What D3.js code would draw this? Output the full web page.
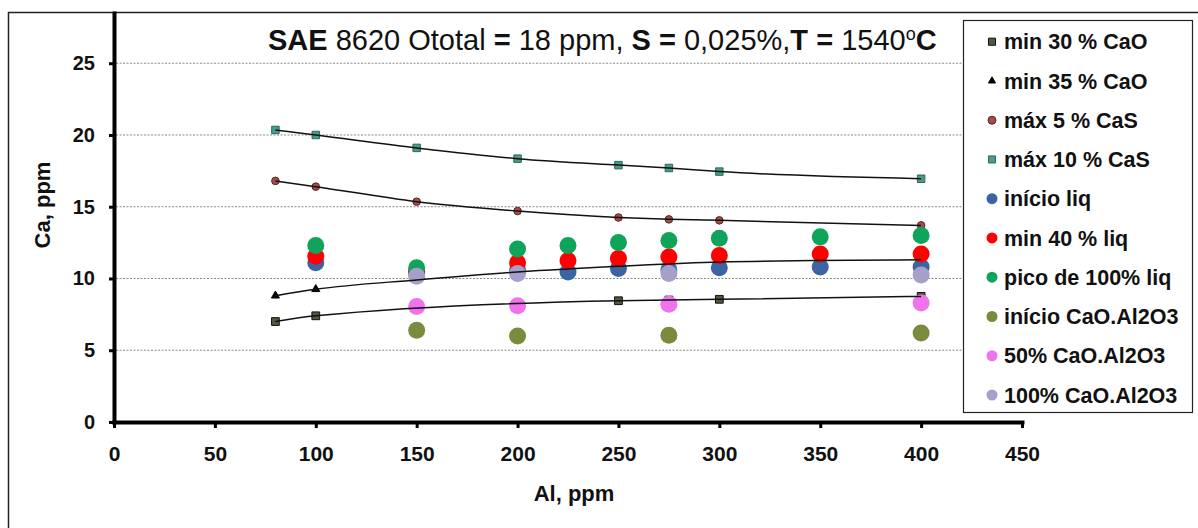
<!DOCTYPE html>
<html>
<head>
<meta charset="utf-8">
<script src="https://cdn.jsdelivr.net/npm/d3@7"></script>
<style>
  body { margin: 0; background: #fff; }
  text { font-family: "Liberation Sans", Arial, sans-serif; }
</style>
</head>
<body>
<svg id="chart"></svg>
<script>
// axis ticks
const xTicks = [0, 50, 100, 150, 200, 250, 300, 350, 400, 450];
const yTicks = [0, 5, 10, 15, 20, 25];

// series (Al ppm -> Ca ppm)
const xMin30 = [80, 100, 250, 275, 300, 400];
const min30CaO = [7.0, 7.4, 8.45, 8.5, 8.55, 8.75];
const xMin35 = [80, 100, 150, 200, 250, 300, 400];
const min35CaO = [8.8, 9.25, 9.9, 10.45, 10.85, 11.15, 11.3];
const xCaS = [80, 100, 150, 200, 250, 275, 300, 400];
const max5CaS = [16.8, 16.4, 15.35, 14.7, 14.25, 14.12, 14.05, 13.7];
const max10CaS = [20.35, 20.0, 19.1, 18.35, 17.9, 17.7, 17.45, 16.95];
const xLiq = [100, 150, 200, 225, 250, 275, 300, 350, 400];
const inicioLiq = [11.1, 10.4, 10.6, 10.45, 10.7, 10.6, 10.75, 10.8, 10.8];
const min40Liq = [11.55, 10.5, 11.1, 11.25, 11.4, 11.5, 11.6, 11.7, 11.7];
const pico100Liq = [12.3, 10.75, 12.05, 12.3, 12.5, 12.65, 12.8, 12.9, 13.0];
const xCA = [150, 200, 275, 400];
const inicioCA = [6.4, 6.0, 6.05, 6.2];
const ca50 = [8.05, 8.1, 8.2, 8.3];
const ca100 = [10.15, 10.35, 10.35, 10.25];

const seriesNames = ["min 30 % CaO", "min 35 % CaO", "máx 5 % CaS", "máx 10 % CaS",
  "início liq", "min 40 % liq", "pico de 100% liq", "início CaO.Al2O3",
  "50% CaO.Al2O3", "100% CaO.Al2O3"];

const series = [
  { xs: xMin30, ys: min30CaO, shape: "square", fill: "#4e5a3e", stroke: "#111", size: 60, trend: true },
  { xs: xMin35, ys: min35CaO, shape: "triangle", fill: "#000", stroke: "#000", size: 28, trend: true },
  { xs: xCaS, ys: max5CaS, shape: "circle", fill: "#a34d4d", stroke: "#5a2323", r: 3.8, trend: true },
  { xs: xCaS, ys: max10CaS, shape: "square", fill: "#4b9a8a", stroke: "#2d6a5e", size: 56, trend: true },
  { xs: xLiq, ys: inicioLiq, shape: "circle", fill: "#3c64a2", r: 8.5 },
  { xs: xLiq, ys: min40Liq, shape: "circle", fill: "#ff0000", r: 8.5 },
  { xs: xLiq, ys: pico100Liq, shape: "circle", fill: "#0fa45a", r: 8.5 },
  { xs: xCA, ys: inicioCA, shape: "circle", fill: "#7b8b3e", r: 8.5 },
  { xs: xCA, ys: ca50, shape: "circle", fill: "#f072ec", r: 8.5 },
  { xs: xCA, ys: ca100, shape: "circle", fill: "#a59fca", r: 8.5 }
];
series.forEach((s, i) => s.name = seriesNames[i]);

const W = 1198, H = 528;
const svg = d3.select("#chart").attr("width", W).attr("height", H);

const x = d3.scaleLinear().domain([0, 450]).range([114, 1022]);
const y = d3.scaleLinear().domain([0, 28.5]).range([422, 13]);

// outer frame
svg.append("rect")
  .attr("x", 8.5).attr("y", 12.5)
  .attr("width", 1300).attr("height", 600)
  .attr("fill", "#fff").attr("stroke", "#222").attr("stroke-width", 1.5);

// dotted gridlines
svg.append("g").selectAll("line")
  .data(yTicks.filter(d => d > 0)).enter()
  .append("line")
  .attr("x1", x(0) + 2).attr("x2", x(450))
  .attr("y1", d => y(d)).attr("y2", d => y(d))
  .attr("stroke", "#888").attr("stroke-width", 1)
  .attr("stroke-dasharray", "2,1.5");

// markers
const marks = svg.append("g");
series.forEach(s => {
  const pts = s.xs.map((v, i) => [v, s.ys[i]]);
  if (s.shape === "circle") {
    marks.append("g").selectAll("circle")
      .data(pts).enter()
      .append("circle")
      .attr("cx", d => x(d[0]))
      .attr("cy", d => y(d[1]))
      .attr("r", s.r)
      .attr("fill", s.fill)
      .attr("stroke", s.stroke || "none")
      .attr("stroke-width", 1);
  } else {
    const sym = d3.symbol()
      .type(s.shape === "square" ? d3.symbolSquare : d3.symbolTriangle)
      .size(s.size);
    marks.append("g").selectAll("path")
      .data(pts).enter()
      .append("path")
      .attr("d", sym)
      .attr("transform", d => `translate(${x(d[0])},${y(d[1])})`)
      .attr("fill", s.fill)
      .attr("stroke", s.stroke)
      .attr("stroke-width", 1);
  }
});

// trend lines through the four limit series
const trendLine = d3.line()
  .x(d => x(d[0])).y(d => y(d[1]))
  .curve(d3.curveMonotoneX);
series.filter(s => s.trend).forEach(s => {
  svg.append("path")
    .datum(s.xs.map((v, i) => [v, s.ys[i]]))
    .attr("d", trendLine)
    .attr("fill", "none")
    .attr("stroke", "#111")
    .attr("stroke-width", 1.5);
});

// axes
const yAxis = svg.append("g")
  .attr("transform", `translate(${x(0)},0)`)
  .call(d3.axisLeft(y).tickValues(yTicks).tickSize(5).tickSizeOuter(0).tickPadding(14));
const xAxis = svg.append("g")
  .attr("transform", `translate(0,${y(0)})`)
  .call(d3.axisBottom(x).tickValues(xTicks).tickSize(6).tickSizeOuter(0).tickPadding(18));

[yAxis, xAxis].forEach(g => {
  g.select(".domain").attr("stroke", "#000").attr("stroke-width", 4).attr("stroke-linecap", "square");
  g.selectAll(".tick line").attr("stroke", "#000").attr("stroke-width", 3);
  g.selectAll("text").attr("fill", "#111").attr("font-weight", "bold")
    .attr("font-family", "'Liberation Sans', Arial, sans-serif");
});
yAxis.selectAll("text").attr("font-size", 20);
xAxis.selectAll("text").attr("font-size", 21);

// axis titles
svg.append("text")
  .attr("transform", "translate(50,205) rotate(-90)")
  .attr("text-anchor", "middle")
  .attr("font-size", 22).attr("font-weight", "bold").attr("fill", "#111")
  .text("Ca, ppm");
svg.append("text")
  .attr("x", 574).attr("y", 501)
  .attr("text-anchor", "middle")
  .attr("font-size", 22).attr("font-weight", "bold").attr("fill", "#111")
  .text("Al, ppm");

// title
const title = svg.append("text")
  .attr("x", 268).attr("y", 50)
  .attr("font-size", 29).attr("fill", "#111");
title.append("tspan").attr("font-weight", "bold").text("SAE ");
title.append("tspan").text("8620 Ototal ");
title.append("tspan").attr("font-weight", "bold").text("= ");
title.append("tspan").text("18 ppm, ");
title.append("tspan").attr("font-weight", "bold").text("S = ");
title.append("tspan").text("0,025%,");
title.append("tspan").attr("font-weight", "bold").text("T = ");
title.append("tspan").text("1540");
title.append("tspan").attr("font-size", 18).attr("dy", -10).text("o");
title.append("tspan").attr("font-weight", "bold").attr("dy", 10).text("C");

// legend
const legend = svg.append("g");
legend.append("rect")
  .attr("x", 963.5).attr("y", 20.5)
  .attr("width", 229).attr("height", 392)
  .attr("fill", "#fff").attr("stroke", "#222").attr("stroke-width", 1.2);

const rowY = d3.scaleLinear().domain([0, 9]).range([41.7, 395]);
series.forEach((s, i) => {
  const row = legend.append("g").attr("transform", `translate(992,${rowY(i)})`);
  if (s.shape === "circle") {
    row.append("circle")
      .attr("r", s.r > 5 ? 5.5 : 4)
      .attr("fill", s.fill)
      .attr("stroke", s.stroke || "none");
  } else {
    row.append("path")
      .attr("d", d3.symbol()
        .type(s.shape === "square" ? d3.symbolSquare : d3.symbolTriangle)
        .size(s.shape === "square" ? 50 : 22))
      .attr("fill", s.fill)
      .attr("stroke", s.stroke);
  }
  row.append("text")
    .attr("x", 12).attr("dy", "0.36em")
    .attr("font-size", 21.5).attr("font-weight", "bold").attr("fill", "#111")
    .text(s.name);
});
</script>
</body>
</html>
